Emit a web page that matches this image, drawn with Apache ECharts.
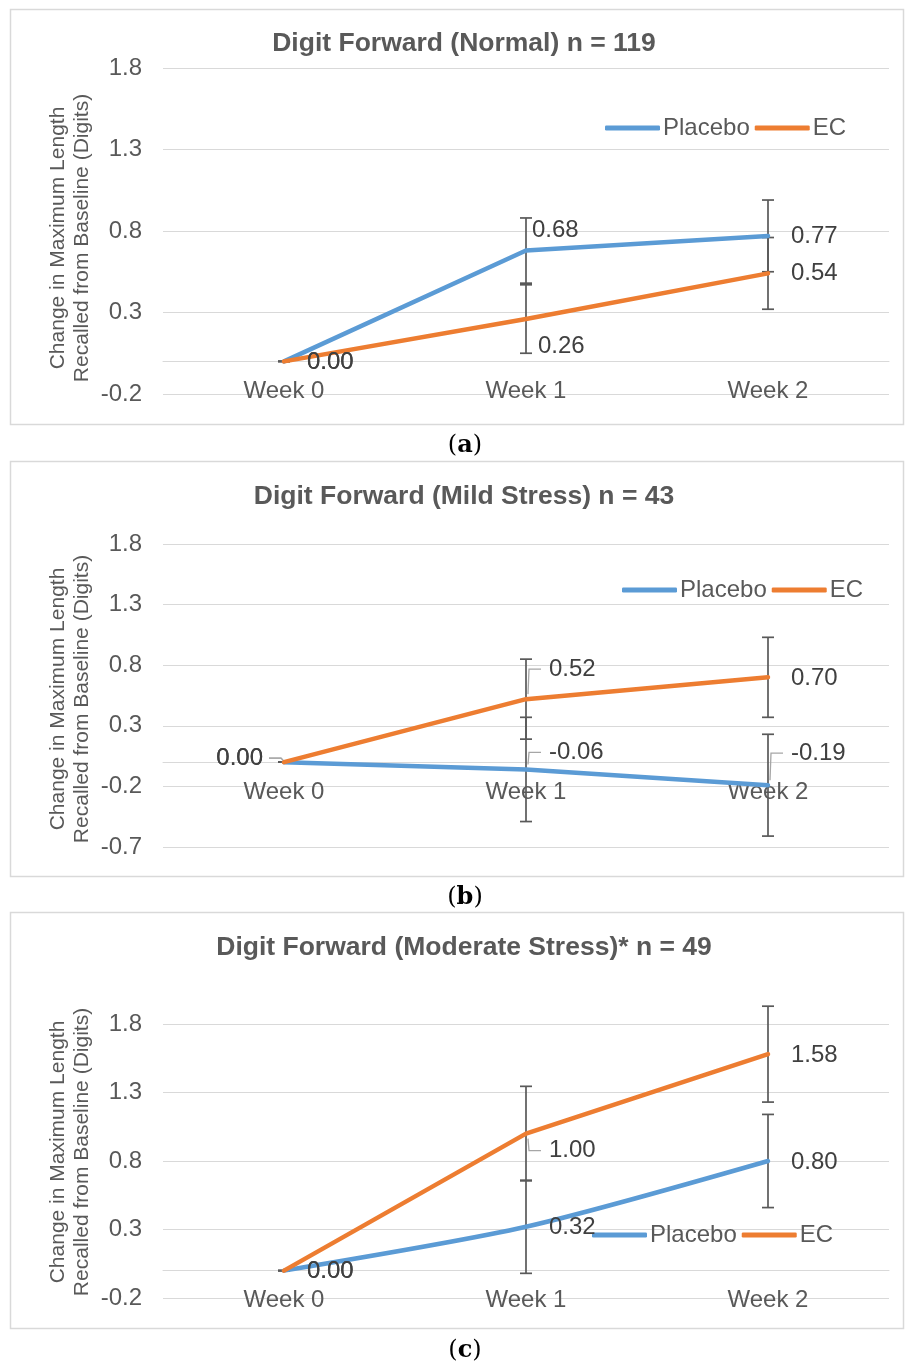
<!DOCTYPE html>
<html><head><meta charset="utf-8">
<script src="https://cdn.jsdelivr.net/npm/echarts@6/dist/echarts.min.js"></script>
<style>html,body{margin:0;padding:0;background:#fff}#c{width:905px;height:1364px}</style>
</head><body><div id="c"></div>
<script>
// ---------- data ----------
const categories = ['Week 0', 'Week 1', 'Week 2'];
const seriesNames = ['Placebo', 'EC'];
const yAxisName = 'Change in Maximum Length\nRecalled from Baseline (Digits)';

const titleA = 'Digit Forward (Normal) n = 119';
const titleB = 'Digit Forward (Mild Stress) n = 43';
const titleC = 'Digit Forward (Moderate Stress)* n = 49';

const yTicksA = [-0.2, 0.3, 0.8, 1.3, 1.8];
const yTicksB = [-0.7, -0.2, 0.3, 0.8, 1.3, 1.8];
const yTicksC = [-0.2, 0.3, 0.8, 1.3, 1.8];

const placeboA = [0.00, 0.68, 0.77];
const ecA = [0.00, 0.26, 0.54];
const placeboErrA = [0, 0.20, 0.22];
const ecErrA = [0, 0.21, 0.22];

const placeboB = [0.00, -0.06, -0.19];
const ecB = [0.00, 0.52, 0.70];
const placeboErrB = [0, 0.43, 0.42];
const ecErrB = [0, 0.33, 0.33];

const placeboC = [0.00, 0.32, 0.80];
const ecC = [0.00, 1.00, 1.58];
const placeboErrC = [0, 0.34, 0.34];
const ecErrC = [0, 0.345, 0.35];

// ---------- styling / layout ----------
const FONT = 'Liberation Sans, Arial, sans-serif';
const TXT = '#595959';
const GRID = '#d9d9d9';
const BLUE = '#5B9BD5';
const ORANGE = '#ED7D31';
const ERR = '#595959';

const panels = [
  { title: titleA, ticks: yTicksA, placebo: placeboA, ec: ecA, pErr: placeboErrA, eErr: ecErrA, smoothP: false,
    top: 68, height: 326, boxTop: 9, boxBottom: 424, titleY: 44, caption: 'a', captionY: 446,
    legendLeft: 605, legendY: 128, nameY: 238,
    pLab: [{dx:23,dy:1},{dx:6,dy:-20},{dx:23,dy:0}],
    eLab: [{dx:23,dy:1},{dx:12,dy:27},{dx:23,dy:0}] },
  { title: titleB, ticks: yTicksB, placebo: placeboB, ec: ecB, pErr: placeboErrB, eErr: ecErrB, smoothP: false,
    top: 544, height: 303, boxTop: 461, boxBottom: 876, titleY: 497, caption: 'b', captionY: 898,
    legendLeft: 622, legendY: 590, nameY: 699,
    pLab: [{dx:-21,dy:-4,right:true,leader:true},{dx:23,dy:-17,leader:true},{dx:23,dy:-32,leader:true}],
    eLab: [{dx:-21,dy:-4,right:true,leader:true},{dx:23,dy:-30,leader:true},{dx:23,dy:1}] },
  { title: titleC, ticks: yTicksC, placebo: placeboC, ec: ecC, pErr: placeboErrC, eErr: ecErrC, smoothP: 0.25,
    top: 1024, height: 274, boxTop: 912, boxBottom: 1328, titleY: 948, caption: 'c', captionY: 1351,
    legendLeft: 592, legendY: 1235, nameY: 1152,
    pLab: [{dx:23,dy:1},{dx:23,dy:1},{dx:23,dy:1}],
    eLab: [{dx:23,dy:1},{dx:23,dy:17,leader:true},{dx:23,dy:1}] }
];

function errorBarSeries(pi, vals, errs) {
  return {
    type: 'custom', xAxisIndex: pi, yAxisIndex: pi, z: 2, clip: false, silent: true,
    data: categories.map((c, k) => [k, vals[k], errs[k]]),
    renderItem: function (params, api) {
      const x = api.value(0), v = api.value(1), e = api.value(2);
      const t = api.coord([x, v + e]);
      const b = api.coord([x, v - e]);
      const s = { stroke: ERR, lineWidth: 1.7 };
      const w = 6;
      return { type: 'group', children: [
        { type: 'line', shape: { x1: t[0], y1: t[1], x2: b[0], y2: b[1] }, style: s },
        { type: 'line', shape: { x1: t[0] - w, y1: t[1], x2: t[0] + w, y2: t[1] }, style: s },
        { type: 'line', shape: { x1: b[0] - w, y1: b[1], x2: b[0] + w, y2: b[1] }, style: s }
      ]};
    }
  };
}

function labelSeries(pi, vals, labs) {
  return {
    type: 'custom', xAxisIndex: pi, yAxisIndex: pi, z: 5, clip: false, silent: true,
    data: categories.map((c, k) => [k, vals[k]]),
    renderItem: function (params, api) {
      const k = params.dataIndex;
      const cfg = labs[k];
      const p = api.coord([api.value(0), api.value(1)]);
      const lx = p[0] + cfg.dx, ly = p[1] + cfg.dy;
      const children = [{
        type: 'text', x: lx, y: ly,
        style: { text: api.value(1).toFixed(2), font: '24px ' + FONT, fill: '#404040',
                 align: cfg.right ? 'right' : 'left', verticalAlign: 'middle' }
      }];
      if (cfg.leader) {
        let pts;
        if (cfg.right) {
          pts = [[lx + 6, ly], [p[0] - 3, ly], [p[0] - 1, p[1] - 2]];
        } else if (cfg.dy < 0) {
          pts = [[p[0] + 2, p[1] - 5], [p[0] + 3, ly], [lx - 8, ly]];
        } else {
          pts = [[p[0] + 2, p[1] + 5], [p[0] + 3, ly], [lx - 8, ly]];
        }
        children.push({ type: 'polyline', shape: { points: pts }, style: { stroke: '#a6a6a6', lineWidth: 1.3, fill: null } });
      }
      return { type: 'group', children: children };
    }
  };
}

const grid = [], xAxis = [], yAxis = [], series = [], legend = [], graphic = [];

panels.forEach((P, i) => {
  const yMin = P.ticks[0], yMax = P.ticks[P.ticks.length - 1];
  // place the category axis (line + labels) at value 0
  const zeroOffset = -(0 - yMin) / (yMax - yMin) * P.height;
  grid.push({ left: 163, right: 16, top: P.top, height: P.height });
  xAxis.push({
    type: 'category', gridIndex: i, data: categories, boundaryGap: true,
    position: 'bottom', offset: zeroOffset,
    axisLine: { onZero: false, lineStyle: { color: GRID, width: 1 } },
    axisTick: { show: false },
    axisLabel: { color: TXT, fontSize: 24, fontFamily: FONT, margin: 18 },
    splitLine: { show: false }
  });
  yAxis.push({
    type: 'value', gridIndex: i, min: yMin, max: yMax, interval: 0.5,
    axisLine: { show: false }, axisTick: { show: false },
    axisLabel: { color: TXT, fontSize: 24, fontFamily: FONT, margin: 21, formatter: v => v.toFixed(1) },
    splitLine: { lineStyle: { color: GRID, width: 1 } }
  });
  series.push(errorBarSeries(i, P.placebo, P.pErr));
  series.push(errorBarSeries(i, P.ec, P.eErr));
  series.push({
    name: seriesNames[0], type: 'line', xAxisIndex: i, yAxisIndex: i, data: P.placebo, z: 3,
    symbol: 'none', smooth: P.smoothP, color: BLUE,
    lineStyle: { color: BLUE, width: 4.5, cap: 'round', join: 'round' }
  });
  series.push({
    name: seriesNames[1], type: 'line', xAxisIndex: i, yAxisIndex: i, data: P.ec, z: 3,
    symbol: 'none', color: ORANGE,
    lineStyle: { color: ORANGE, width: 4.5, cap: 'round', join: 'round' }
  });
  series.push(labelSeries(i, P.placebo, P.pLab));
  series.push(labelSeries(i, P.ec, P.eLab));

  legend.push({
    data: seriesNames, left: P.legendLeft, top: P.legendY - 12, padding: 0,
    itemWidth: 55, itemHeight: 5, itemGap: 5, icon: 'roundRect', selectedMode: false,
    textStyle: { color: TXT, fontSize: 24, fontFamily: FONT, padding: [0, 0, 0, -2] }
  });

  graphic.push({
    type: 'rect', silent: true, z: 0,
    shape: { x: 10.5, y: P.boxTop + 0.5, width: 893, height: P.boxBottom - P.boxTop },
    style: { fill: null, stroke: GRID, lineWidth: 1.5 }
  });
  graphic.push({
    type: 'text', x: 464, y: P.titleY, silent: true,
    style: { text: P.title, font: 'bold 26.5px ' + FONT, fill: TXT, align: 'center', verticalAlign: 'middle' }
  });
  graphic.push({
    type: 'text', x: 70, y: P.nameY, rotation: Math.PI / 2, silent: true,
    style: { text: yAxisName, font: '21px ' + FONT, fill: TXT, align: 'center', verticalAlign: 'middle', lineHeight: 24 }
  });
  graphic.push({
    type: 'text', x: 465, y: P.captionY, silent: true,
    style: {
      text: '{n|(}{b|' + P.caption + '}{n|)}', align: 'center', verticalAlign: 'middle',
      rich: { n: { font: '24px DejaVu Serif, serif', fill: '#000' }, b: { font: 'bold 24px DejaVu Serif, serif', fill: '#000' } }
    }
  });
});

const chart = echarts.init(document.getElementById('c'), null, { renderer: 'canvas' });
chart.setOption({
  backgroundColor: '#fff',
  animation: false,
  grid, xAxis, yAxis, series, legend, graphic
});
</script>
</body></html>
